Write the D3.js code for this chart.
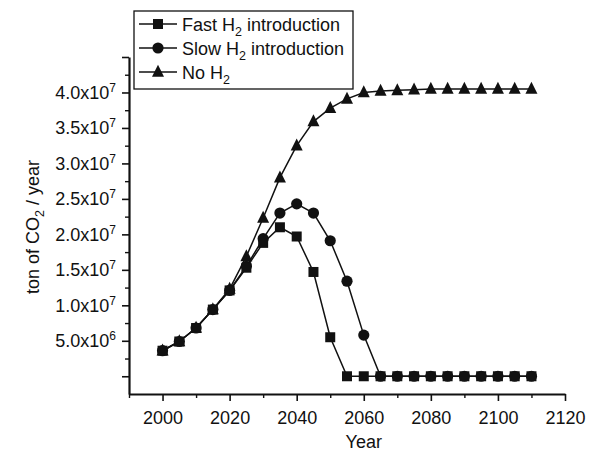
<!DOCTYPE html>
<html>
<head>
<meta charset="utf-8">
<script src="https://cdn.jsdelivr.net/npm/d3@7"></script>
<style>
  body { margin: 0; background: #fff; }
  svg text { font-family: "Liberation Sans", Arial, sans-serif; fill: #111; }
</style>
</head>
<body>
<div id="chart"></div>
<script>
// years sampled every 5 years
const years = [2000, 2005, 2010, 2015, 2020, 2025, 2030, 2035, 2040, 2045, 2050, 2055,
  2060, 2065, 2070, 2075, 2080, 2085, 2090, 2095, 2100, 2105, 2110];

// ton of CO2 / year, in millions
const fastH2 = [3.6, 4.9, 6.8, 9.4, 12.1, 15.3, 18.8, 21.0, 19.7, 14.7, 5.5, 0,
  0, 0, 0, 0, 0, 0, 0, 0, 0, 0, 0];
const slowH2 = [3.6, 4.9, 6.8, 9.4, 12.1, 15.5, 19.4, 23.0, 24.3, 23.0, 19.1, 13.4,
  5.8, 0, 0, 0, 0, 0, 0, 0, 0, 0, 0];
const noH2 = [3.6, 4.9, 6.8, 9.4, 12.3, 16.9, 22.3, 28.0, 32.5, 35.9, 37.8, 39.1,
  40.0, 40.2, 40.3, 40.4, 40.5, 40.5, 40.5, 40.5, 40.5, 40.5, 40.5];

const xTicks = [2000, 2020, 2040, 2060, 2080, 2100, 2120];
const yTickMantissa = ['5.0', '1.0', '1.5', '2.0', '2.5', '3.0', '3.5', '4.0'];
const yTickExp = ['6', '7', '7', '7', '7', '7', '7', '7'];

const series = [
  { name: 'Fast H', sub: '2', tail: ' introduction', values: fastH2, marker: 'square' },
  { name: 'Slow H', sub: '2', tail: ' introduction', values: slowH2, marker: 'circle' },
  { name: 'No H', sub: '2', tail: '', values: noH2, marker: 'triangle' },
];

const width = 592;
const height = 453;
const fontSize = 18;

const svg = d3.select('#chart')
  .append('svg')
  .attr('width', width)
  .attr('height', height);

const x = d3.scaleLinear().domain([1990, 2120]).range([129, 565]);
const y = d3.scaleLinear().domain([-2.5, 45]).range([394, 57]);

const ink = '#111';

// x axis: major ticks every 20 years, minor in between
const xAxisG = svg.append('g').attr('transform', `translate(0,${y(-2.5)})`);
xAxisG.call(d3.axisBottom(x).tickValues(xTicks).tickSize(7).tickSizeOuter(0).tickFormat(d3.format('d')))
  .call((g) => g.select('.domain').attr('stroke', ink).attr('stroke-width', 2.2));
xAxisG.selectAll('.tick line').attr('stroke', ink).attr('stroke-width', 1.6);
xAxisG.selectAll('.tick text')
  .attr('font-size', fontSize)
  .attr('y', 30)
  .attr('dy', 0)
  .attr('fill', ink);
xAxisG.append('g')
  .call(d3.axisBottom(x).tickValues(d3.range(1990, 2120, 20)).tickSize(4).tickFormat(''))
  .call((g) => g.select('.domain').remove())
  .selectAll('.tick line').attr('stroke', ink).attr('stroke-width', 1.4);

// y axis: major ticks every 5e6, minor at the halves
const yAxisG = svg.append('g').attr('transform', `translate(${x(1990)},0)`);
yAxisG.call(d3.axisLeft(y).tickValues(d3.range(0, 46, 5)).tickSize(7).tickSizeOuter(0).tickFormat(''))
  .call((g) => g.select('.domain').attr('stroke', ink).attr('stroke-width', 2.2));
yAxisG.selectAll('.tick line').attr('stroke', ink).attr('stroke-width', 1.6);
yAxisG.append('g')
  .call(d3.axisLeft(y).tickValues(d3.range(2.5, 45, 5)).tickSize(4).tickFormat(''))
  .call((g) => g.select('.domain').remove())
  .selectAll('.tick line').attr('stroke', ink).attr('stroke-width', 1.4);

// y tick labels like 4.0x10^7
const yLabelVals = d3.range(5, 41, 5);
yLabelVals.forEach((v, i) => {
  const t = svg.append('text')
    .attr('x', 116)
    .attr('y', y(v) + 6.5)
    .attr('text-anchor', 'end')
    .attr('font-size', fontSize);
  t.append('tspan').text(`${yTickMantissa[i]}x10`);
  t.append('tspan').attr('dy', -7).attr('font-size', 12).text(yTickExp[i]);
});

// axis titles
svg.append('text')
  .attr('x', x(2060))
  .attr('y', 448)
  .attr('text-anchor', 'middle')
  .attr('font-size', fontSize)
  .text('Year');

const yTitle = svg.append('text')
  .attr('transform', `translate(39,${227}) rotate(-90)`)
  .attr('text-anchor', 'middle')
  .attr('font-size', fontSize);
yTitle.append('tspan').text('ton of CO');
yTitle.append('tspan').attr('dy', 5).attr('font-size', 12.5).text('2');
yTitle.append('tspan').attr('dy', -5).text(' / year');

// markers
const drawMarker = (sel, type, cx, cy) => {
  if (type === 'square') {
    sel.append('rect').attr('x', cx - 5).attr('y', cy - 5).attr('width', 10).attr('height', 10).attr('fill', ink);
  } else if (type === 'circle') {
    sel.append('circle').attr('cx', cx).attr('cy', cy).attr('r', 5.6).attr('fill', ink);
  } else {
    const s = 12;
    sel.append('path')
      .attr('d', `M${cx},${cy - s * 0.6}L${cx + s / 2},${cy + s * 0.4}L${cx - s / 2},${cy + s * 0.4}Z`)
      .attr('fill', ink);
  }
};

const line = d3.line().x((d) => x(d[0])).y((d) => y(d[1]));

const plot = svg.append('g');
// draw No H2 first, then slow, then fast on top
[...series].reverse().forEach((s) => {
  const pts = years.map((yr, i) => [yr, s.values[i]]);
  plot.append('path')
    .datum(pts)
    .attr('d', line)
    .attr('fill', 'none')
    .attr('stroke', ink)
    .attr('stroke-width', 1.5);
  const mg = plot.append('g');
  pts.forEach((p) => drawMarker(mg, s.marker, x(p[0]), y(p[1])));
});

// legend
const legend = svg.append('g');
legend.append('rect')
  .attr('x', 134).attr('y', 11).attr('width', 219).attr('height', 78)
  .attr('fill', '#fff').attr('stroke', ink).attr('stroke-width', 1.3);
series.forEach((s, i) => {
  const ly = 24 + i * 24;
  legend.append('line').attr('x1', 139).attr('x2', 177).attr('y1', ly).attr('y2', ly)
    .attr('stroke', ink).attr('stroke-width', 1.5);
  drawMarker(legend, s.marker, 158, ly);
  const t = legend.append('text').attr('x', 182).attr('y', ly + 6.5).attr('font-size', fontSize);
  t.append('tspan').text(s.name);
  t.append('tspan').attr('dy', 5).attr('font-size', 12.5).text(s.sub);
  t.append('tspan').attr('dy', -5).text(s.tail);
});
</script>
</body>
</html>
